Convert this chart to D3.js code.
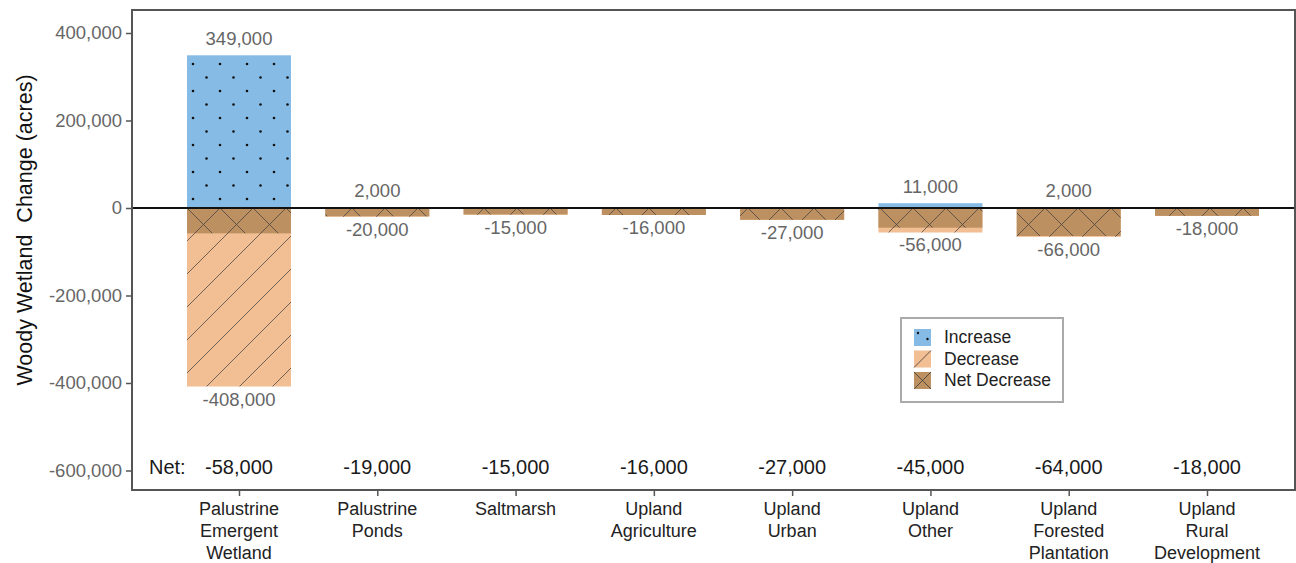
<!DOCTYPE html>
<html>
<head>
<meta charset="utf-8">
<script src="https://cdn.jsdelivr.net/npm/d3@7"></script>
<style>
  body { margin: 0; background: #fff; }
  svg text { font-family: "Liberation Sans", Arial, sans-serif; }
</style>
</head>
<body>
<div id="chart"></div>
<script>
// data
var categories = [
  'Palustrine Emergent Wetland', 'Palustrine Ponds', 'Saltmarsh', 'Upland Agriculture',
  'Upland Urban', 'Upland Other', 'Upland Forested Plantation', 'Upland Rural Development'
];
var categoryLines = [
  ['Palustrine', 'Emergent', 'Wetland'], ['Palustrine', 'Ponds'], ['Saltmarsh'],
  ['Upland', 'Agriculture'], ['Upland', 'Urban'], ['Upland', 'Other'],
  ['Upland', 'Forested', 'Plantation'], ['Upland', 'Rural', 'Development']
];
var increase = [349000, 2000, 0, 0, 0, 11000, 2000, 0];
var decrease = [-408000, -20000, -15000, -16000, -27000, -56000, -66000, -18000];
var net = [-58000, -19000, -15000, -16000, -27000, -45000, -64000, -18000];
var yTicks = [400000, 200000, 0, -200000, -400000, -600000];
var legendLabels = ['Increase', 'Decrease', 'Net Decrease'];

var W = 1296, H = 563;
var panel = {left: 132, right: 1295, top: 10, bottom: 490};
var colors = {inc: '#86bbe6', dec: '#f2be94', net: '#bc9060'};

var fmt = function(v){ return d3.format(',')(v).replace('\u2212', '-'); };

var svg = d3.select('#chart').append('svg')
  .attr('width', W).attr('height', H);

var defs = svg.append('defs');

// dots pattern
var pDots = defs.append('pattern').attr('id', 'dots')
  .attr('patternUnits', 'userSpaceOnUse')
  .attr('width', 27).attr('height', 27).attr('x', 193).attr('y', 64);
pDots.append('rect').attr('width', 27).attr('height', 27).attr('fill', colors.inc);
[[0,0],[27,0],[0,27],[27,27],[13.5,13.5]].forEach(function(p){
  pDots.append('circle').attr('cx', p[0]).attr('cy', p[1]).attr('r', 1.3).attr('fill', '#111');
});

// diagonal pattern
var pDiag = defs.append('pattern').attr('id', 'diag')
  .attr('patternUnits', 'userSpaceOnUse')
  .attr('width', 33).attr('height', 33).attr('x', 187).attr('y', 208);
pDiag.append('rect').attr('width', 33).attr('height', 33).attr('fill', colors.dec);
pDiag.append('path').attr('d', 'M-1,34 L34,-1 M-8,8 L8,-8 M25,41 L41,25')
  .attr('stroke', '#3a3a3a').attr('stroke-width', 0.7).attr('fill', 'none');

// crosshatch pattern
var pCross = defs.append('pattern').attr('id', 'cross')
  .attr('patternUnits', 'userSpaceOnUse')
  .attr('width', 33).attr('height', 33).attr('x', 187).attr('y', 208);
pCross.append('rect').attr('width', 33).attr('height', 33).attr('fill', colors.net);
pCross.append('path').attr('d', 'M-1,-1 L34,34 M-1,34 L34,-1')
  .attr('stroke', '#3a3a3a').attr('stroke-width', 0.7).attr('fill', 'none');

// scales
var x = d3.scalePoint().domain(categories).range([239, 1207]);
var barW = 104;
var y = d3.scaleLinear().domain([-644571, 452571]).range([panel.bottom, panel.top]);

// bars
var g = svg.append('g');
categories.forEach(function(c, i){
  var cx = x(c);
  if (increase[i] > 0) {
    g.append('rect').attr('x', cx - barW/2).attr('width', barW)
      .attr('y', y(increase[i])).attr('height', y(0) - y(increase[i]))
      .attr('fill', 'url(#dots)');
  }
  g.append('rect').attr('x', cx - barW/2).attr('width', barW)
    .attr('y', y(0)).attr('height', y(decrease[i]) - y(0))
    .attr('fill', 'url(#diag)');
  g.append('rect').attr('x', cx - barW/2).attr('width', barW)
    .attr('y', y(0)).attr('height', y(net[i]) - y(0))
    .attr('fill', 'url(#cross)');
});

// zero line
svg.append('line')
  .attr('x1', panel.left).attr('x2', panel.right)
  .attr('y1', y(0)).attr('y2', y(0))
  .attr('stroke', '#111').attr('stroke-width', 2);

// value labels
categories.forEach(function(c, i){
  var cx = x(c);
  if (increase[i] > 0) {
    svg.append('text').attr('x', cx).attr('y', y(increase[i]) - 10)
      .attr('text-anchor', 'middle').attr('font-size', 18.5).attr('fill', '#666')
      .text(fmt(increase[i]));
  }
  svg.append('text').attr('x', cx).attr('y', y(decrease[i]) + 19)
    .attr('text-anchor', 'middle').attr('font-size', 18.5).attr('fill', '#666')
    .text(fmt(decrease[i]));
  svg.append('text').attr('x', cx).attr('y', 474)
    .attr('text-anchor', 'middle').attr('font-size', 20).attr('fill', '#1a1a1a')
    .text(fmt(net[i]));
});
svg.append('text').attr('x', 149).attr('y', 474)
  .attr('font-size', 20).attr('fill', '#1a1a1a').text('Net:');

// panel border
svg.append('rect')
  .attr('x', panel.left).attr('y', panel.top)
  .attr('width', panel.right - panel.left).attr('height', panel.bottom - panel.top)
  .attr('fill', 'none').attr('stroke', '#555').attr('stroke-width', 2);

// y axis
var yAxis = svg.append('g').attr('transform', 'translate(' + panel.left + ',0)')
  .call(d3.axisLeft(y).tickValues(yTicks).tickFormat(fmt).tickSize(6).tickPadding(4));
yAxis.select('.domain').remove();
yAxis.selectAll('line').attr('stroke', '#555').attr('stroke-width', 1.5);
yAxis.selectAll('text').attr('font-size', 18.5).attr('fill', '#666')
  .style('font-family', '"Liberation Sans", Arial, sans-serif');

// x axis
var xAxis = svg.append('g').attr('transform', 'translate(0,' + panel.bottom + ')')
  .call(d3.axisBottom(x).tickSize(6).tickFormat(''));
xAxis.select('.domain').remove();
xAxis.selectAll('line').attr('stroke', '#555').attr('stroke-width', 1.5);

categories.forEach(function(c, i){
  var t = svg.append('text').attr('x', x(c)).attr('y', 515)
    .attr('text-anchor', 'middle').attr('font-size', 18).attr('fill', '#222');
  categoryLines[i].forEach(function(line, k){
    t.append('tspan').attr('x', x(c)).attr('dy', k === 0 ? 0 : 22).text(line);
  });
});

// y title
svg.append('text')
  .attr('transform', 'translate(32,230) rotate(-90)')
  .attr('text-anchor', 'middle').attr('font-size', 21.5).attr('fill', '#111')
  .attr('xml:space', 'preserve')
  .text('Woody Wetland  Change (acres)');

// legend
var lg = svg.append('g').attr('transform', 'translate(901,318)');
lg.append('rect').attr('width', 162).attr('height', 84)
  .attr('fill', '#fff').attr('stroke', '#aaa').attr('stroke-width', 2);
var keyFill = [colors.inc, colors.dec, colors.net];
legendLabels.forEach(function(lab, i){
  var ky = 11 + i * 21.5;
  var k = lg.append('g').attr('transform', 'translate(13,' + ky + ')');
  k.append('rect').attr('width', 17).attr('height', 17).attr('fill', keyFill[i]);
  if (i === 0) {
    k.append('circle').attr('cx', 4).attr('cy', 4).attr('r', 1.2).attr('fill', '#111');
    k.append('circle').attr('cx', 13.5).attr('cy', 10).attr('r', 1.2).attr('fill', '#111');
  } else if (i === 1) {
    k.append('path').attr('d', 'M0,17 L17,0').attr('stroke', '#3a3a3a').attr('stroke-width', 0.8);
  } else {
    k.append('path').attr('d', 'M0,0 L17,17 M0,17 L17,0').attr('stroke', '#3a3a3a').attr('stroke-width', 0.8);
  }
  lg.append('text').attr('x', 43).attr('y', ky + 14).attr('font-size', 17.5).attr('fill', '#222').text(lab);
});
</script>
</body>
</html>
